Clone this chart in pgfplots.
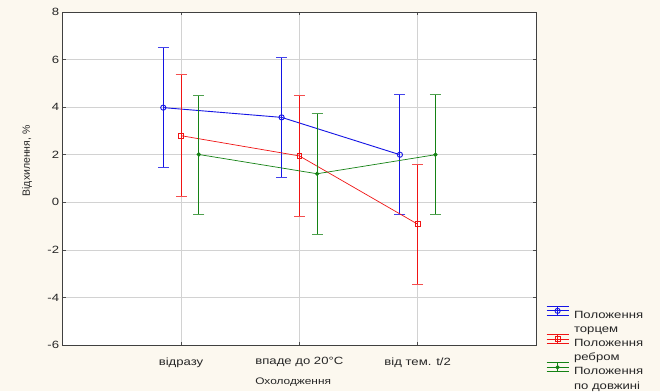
\documentclass[border=0pt]{standalone}
\usepackage{pgfplots}
\pgfplotsset{compat=1.18}
\usepackage{fontspec}
\setmainfont{Liberation Sans}[FakeStretch=1.25]
\newfontfamily\yfont{Liberation Sans}
\definecolor{cream}{rgb}{0.988,0.973,0.937}
\definecolor{myblue}{rgb}{0.08,0.08,0.90}
\definecolor{myred}{rgb}{0.94,0.08,0.08}
\definecolor{mygreen}{rgb}{0.08,0.51,0.08}
\colorlet{capblue}{myblue!80!white}
\colorlet{capred}{myred!75!white}
\colorlet{capgreen}{mygreen!75!white}
\begin{document}
\begin{tikzpicture}[x=1pt,y=1pt]
\fill[cream] (-62.7,-46) rectangle (597.3,345);
\useasboundingbox (-62.7,-46) rectangle (597.3,345);
\begin{axis}[
  at={(0,0)}, anchor=south west,
  scale only axis, width=473.3pt, height=333pt,
  xmin=0, xmax=4, ymin=-6, ymax=8,
  xtick={1,2,3}, xticklabels={відразу, впаде до 20°C, від тем. t/2},
  ytick={-6,-4,-2,0,2,4,6,8}, yticklabels={-6,-4,-2,0,2,4,6,8},
  tick align=inside, tick pos=both, yticklabel pos=left, xticklabel pos=bottom,
  major tick length=3pt,
  tick style={black!70, line width=0.6pt},
  grid=major, grid style={gray!35, line width=0.6pt},
  axis line style={black!75, line width=0.8pt},
  axis background/.style={fill=white},
  ticklabel style={font=\fontsize{10.5}{12}\selectfont, text=black!85},
  xticklabel style={yshift=-9pt},
  xlabel={Охолодження}, ylabel={\yfont\fontsize{10.5}{12}\selectfont Відхилення, \%},
  label style={font=\fontsize{9.5}{12}\selectfont, text=black!85},
  xlabel style={at={(axis description cs:0.487,-0.111)}, anchor=center},
  ylabel style={at={(axis description cs:-0.0754,0.553)}, anchor=center},
  legend style={at={(1.021,0.118)}, anchor=north west, draw=none, fill=none,
    font=\fontsize{10.5}{14.5}\selectfont, text=black!85, row sep=5.5pt,
    inner sep=0pt, column sep=3pt, cells={inner sep=0pt}},
  legend cell align=left,
  legend image code/.code={
    \begin{scope}[yshift=6.5pt]
    \draw[#1,mark=none] (0pt,4.5pt) -- (22pt,4.5pt);
    \draw[#1,mark=none] (0pt,-4.5pt) -- (22pt,-4.5pt);
    \draw[#1,mark=none] (11pt,-4.5pt) -- (11pt,4.5pt);
    \draw[#1,mark=none] (0pt,0pt) -- (22pt,0pt);
    \draw[#1] plot coordinates {(11pt,0pt)};
    \end{scope}
  },
]
\addplot+[color=myblue, line width=0.9pt, mark=o, mark size=2.6pt, mark options={color=myblue, line width=0.9pt},
  error bars/.cd, y dir=both, y explicit,
  error mark options={rotate=90, color=capblue, mark size=5.5pt, line width=0.7pt},
  error bar style={color=myblue, line width=1pt}]
  coordinates {(0.85,3.98) +- (0,2.52) (1.85,3.57) +- (0,2.52) (2.85,2.0) +- (0,2.52)};
\addlegendentry{{\begin{tabular}{@{}l@{}}Положення\\торцем\end{tabular}}}
\addplot+[color=myred, line width=0.7pt, mark=square, mark size=2.4pt, mark options={color=myred, line width=0.8pt},
  error bars/.cd, y dir=both, y explicit,
  error mark options={rotate=90, color=capred, mark size=5.5pt, line width=0.7pt},
  error bar style={color=myred, line width=0.9pt}]
  coordinates {(1,2.8) +- (0,2.56) (2,1.95) +- (0,2.55) (3,-0.92) +- (0,2.52)};
\addlegendentry{{\begin{tabular}{@{}l@{}}Положення\\ребром\end{tabular}}}
\addplot+[color=mygreen, line width=0.7pt, mark=*, mark size=1.8pt, mark options={color=mygreen, fill=mygreen},
  error bars/.cd, y dir=both, y explicit,
  error mark options={rotate=90, color=capgreen, mark size=5.5pt, line width=0.7pt},
  error bar style={color=mygreen, line width=0.9pt}]
  coordinates {(1.15,2.01) +- (0,2.5) (2.15,1.2) +- (0,2.54) (3.15,2.0) +- (0,2.52)};
\addlegendentry{{\begin{tabular}{@{}l@{}}Положення\\по довжині\end{tabular}}}
\end{axis}
\end{tikzpicture}
\end{document}
